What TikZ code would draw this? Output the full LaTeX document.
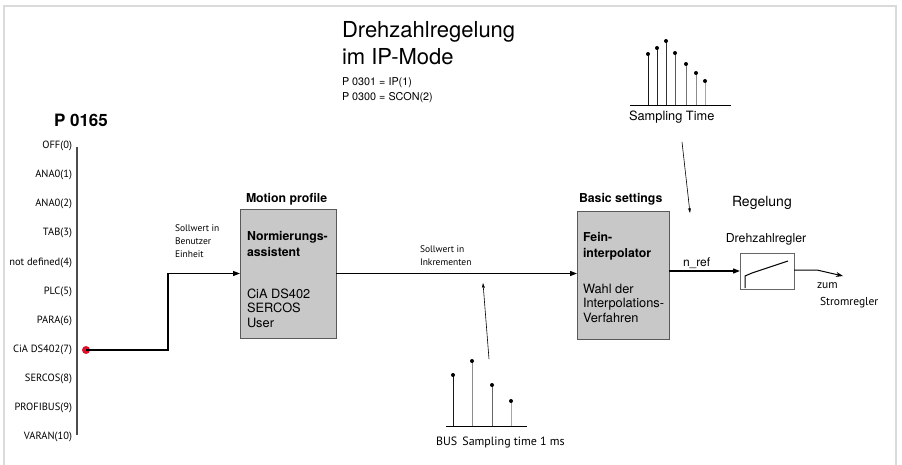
\documentclass[tikz,border=0pt]{standalone}
\usepackage{fontspec}
\setmainfont{TeX Gyre Heros}
\newfontfamily\labelfont{PT Sans}
\usetikzlibrary{arrows.meta}

\definecolor{boxgray}{HTML}{C8C8C8}
\definecolor{framegray}{HTML}{DADADA}
\definecolor{dotred}{HTML}{E0102A}

\tikzset{
  every node/.style={inner sep=0pt, outer sep=0pt},
  block/.style={draw=black!65, fill=boxgray, line width=0.9pt, anchor=north west},
  head/.style={font=\fontsize{12.3}{14}\selectfont\bfseries, anchor=base west},
  boxtext/.style={font=\fontsize{12.8}{14.5}\selectfont, anchor=base west, align=left},
  small/.style={font=\labelfont\fontsize{9.5}{13}\selectfont, anchor=base west, align=left},
  source/.style={font=\labelfont\fontsize{10.5}{12}\selectfont, anchor=base east},
  flow/.style={line width=1.2pt, -{Triangle[length=7pt,width=5pt]}},
  thin arrow/.style={line width=0.6pt, -{Stealth[length=5pt,width=3pt]}},
  stem/.style={line width=0.9pt},
}

\begin{document}
\begin{tikzpicture}[x=1pt,y=-1pt]
  \useasboundingbox (0,0) rectangle (902,465);
  % light frame
  \draw[framegray, line width=1.4pt] (4,465) -- (4,6) -- (896,6) -- (896,465);

  % title (base of a multi-line node = its last line)
  \node[anchor=base west, align=left, font=\fontsize{22}{27}\selectfont] (title) at (342,65)
    {Drehzahlregelung\\im IP-Mode};
  \node[anchor=base west, align=left, font=\fontsize{10.8}{15}\selectfont] (mode) at (342,101)
    {P 0301 = IP(1)\\P 0300 = SCON(2)};

  % setpoint sources P 0165
  \node[anchor=base west, font=\fontsize{17}{20}\selectfont\bfseries] (par) at (54,127) {P 0165};
  \coordinate (bus top) at (77,147);
  \coordinate (bus bottom) at (77,435);
  \draw[black!70, line width=1.1pt] (bus top) -- (bus bottom);
  \node[source] (src0) at (72,149) {OFF(0)};
  \node[source] (src1) at (72,178) {ANA0(1)};
  \node[source] (src2) at (72,207) {ANA0(2)};
  \node[source] (src3) at (72,236) {TAB(3)};
  \node[source] (src4) at (72,265) {not defined(4)};
  \node[source] (src5) at (72,294) {PLC(5)};
  \node[source] (src6) at (72,323) {PARA(6)};
  \node[source] (src7) at (72,352) {CiA DS402(7)};
  \node[source] (src8) at (72,381) {SERCOS(8)};
  \node[source] (src9) at (72,410) {PROFIBUS(9)};
  \node[source] (src10) at (72,439) {VARAN(10)};

  % motion profile
  \node[head] (mphead) at (246,203) {Motion profile};
  \node[block, minimum width=96pt, minimum height=129pt] (mp) at (240,209) {};
  \node[boxtext, font=\fontsize{12.3}{16}\selectfont\bfseries] (mpname) at (247,256) {Normierungs-\\assistent};
  \node[boxtext] (mplist) at (247,327) {CiA DS402\\SERCOS\\User};

  % basic settings
  \node[head] (bshead) at (579,203) {Basic settings};
  \node[block, minimum width=92pt, minimum height=128pt] (bs) at (577,211) {};
  \node[boxtext, font=\fontsize{12.3}{16}\selectfont\bfseries] (bsname) at (583,257) {Fein-\\interpolator};
  \node[boxtext] (bslist) at (583,322) {Wahl der\\Interpolations-\\Verfahren};

  % speed controller
  \node[anchor=base west, font=\fontsize{14}{16}\selectfont] (regel) at (732,207) {Regelung};
  \node[anchor=base, font=\fontsize{12.3}{14}\selectfont] (reglabel) at (766,243) {Drehzahlregler};
  \node[draw=black!60, fill=white, line width=0.8pt, minimum width=54pt, minimum height=36pt, anchor=north west] (reg) at (740,253) {};
  \draw[line width=1pt] (745,288) -- (745,276) -- (752,273) -- (788,261);

  % setpoint path
  \node[circle, fill=dotred, minimum size=8pt] (dot) at (86,350) {};
  \draw[flow] (dot.center) -- (168,350) |- (mp.west);
  \node[small] (unit) at (175,257) {Sollwert in\\Benutzer\\Einheit};
  \draw[flow] (mp.east) -- (mp.east -| bs.west);
  \node[small] (inc) at (420,265) {Sollwert in\\Inkrementen};
  \draw[flow] (bs.east |- reg.west) -- (reg.west);
  \node[anchor=base west, font=\fontsize{12}{14}\selectfont] (nref) at (683,266) {n\_ref};
  \coordinate (bend) at (817,270);
  \coordinate (out) at (843,276);
  \draw[line width=1pt, -{Stealth[length=7pt,width=5pt]}] (reg.east |- bend) -- (bend) -- (out);
  \node[small, font=\labelfont\fontsize{11.5}{17}\selectfont] (zum) at (817,305) {zum\\\hspace*{3pt}Stromregler};

  % sampling time of the interpolator
  \coordinate (ax1) at (630,105);
  \coordinate (ax2) at (731,105);
  \draw[line width=0.9pt] (ax1) -- (ax2);
  \draw[stem, black!90] (648,105) -- (648,54);  \fill (648,54) circle(2pt);
  \draw[stem, black!85] (657,105) -- (657,48);  \fill (657,48) circle(2pt);
  \draw[stem, black!80] (666,105) -- (666,41);  \fill (666,41) circle(2pt);
  \draw[stem, black!65] (675,105) -- (675,53);  \fill (675,53) circle(2pt);
  \draw[stem, black!55] (686,105) -- (686,64);  \fill (686,64) circle(2pt);
  \draw[stem, black!45] (696,105) -- (696,73);  \fill (696,73) circle(2pt);
  \draw[stem, black!35] (705,105) -- (705,81);  \fill (705,81) circle(2pt);
  \node[anchor=base west, font=\fontsize{12.8}{14}\selectfont] (st) at (629,121) {Sampling Time};
  \coordinate (st from) at (682,142);
  \coordinate (st to) at (690,213);
  \draw[thin arrow] (st from) -- (st to);

  % sampling time of the bus
  \coordinate (bx1) at (446,426);
  \coordinate (bx2) at (527,426);
  \draw[line width=0.9pt] (bx1) -- (bx2);
  \draw[stem, black!90] (453,426) -- (453,375); \fill (453,375) circle(2pt);
  \draw[stem, black!45] (472,426) -- (472,361); \fill (472,361) circle(2pt);
  \draw[stem, black!60] (492,426) -- (492,385); \fill (492,385) circle(2pt);
  \draw[stem, black!35] (511,426) -- (511,401); \fill (511,401) circle(2pt);
  \node[anchor=base west, font=\labelfont\fontsize{12}{14}\selectfont] (bst) at (436,445) {BUS\, Sampling time 1 ms};
  \coordinate (bst from) at (489,359);
  \coordinate (bst to) at (483,283);
  \draw[thin arrow] (bst from) -- (bst to);
\end{tikzpicture}
\end{document}
